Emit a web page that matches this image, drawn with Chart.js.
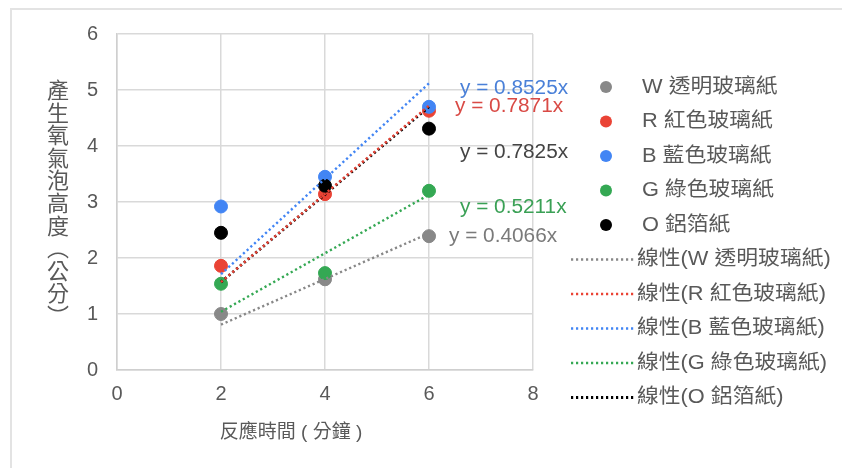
<!DOCTYPE html>
<html>
<head>
<meta charset="utf-8">
<script src="https://cdn.jsdelivr.net/npm/chart.js@4.4.1/dist/chart.umd.min.js"></script>
<style>
  html, body { margin: 0; padding: 0; background: #fff; }
  .wrap { position: relative; width: 842px; height: 468px; overflow: hidden; }
  .frame { position: absolute; left: 10px; top: 8px; right: -10px; bottom: -10px;
           border-left: 2px solid #e3e3e3; border-top: 2px solid #e3e3e3; }
  canvas { position: absolute; left: 0; top: 0; }
</style>
</head>
<body>
<div class="wrap">
  <div class="frame"></div>
  <canvas id="chart" width="842" height="468"></canvas>
</div>
<script>
const times = [2, 4, 6];
const seriesNames = ['W 透明玻璃紙', 'R 紅色玻璃紙', 'B 藍色玻璃紙', 'G 綠色玻璃紙', 'O 鋁箔紙'];
const valuesW = [1.00, 1.62, 2.39];
const valuesR = [1.86, 3.14, 4.63];
const valuesB = [2.92, 3.45, 4.70];
const valuesG = [1.54, 1.73, 3.20];
const valuesO = [2.45, 3.29, 4.31];
// trendline ends (at x = 2 and x = 6), through the origin
const trendX = [2, 6];
const trendW = [0.81, 2.44];
const trendR = [1.57, 4.72];
const trendB = [1.71, 5.12];
const trendG = [1.04, 3.13];
const trendO = [1.57, 4.70];
const equations = ['y = 0.4066x', 'y = 0.7871x', 'y = 0.8525x', 'y = 0.5211x', 'y = 0.7825x'];
const xTicks = [0, 2, 4, 6, 8];
const yTicks = [0, 1, 2, 3, 4, 5, 6];
const xTitle = '反應時間 ( 分鐘 )';
const yTitle = '產生氧氣泡高度︵公分︶';

const colors = ['#888888', '#ea4335', '#4285f4', '#34a853', '#000000'];
const eqColors = ['#7a7a7a', '#d94a45', '#4a80d8', '#3aa055', '#444444'];
const FONT = '"Liberation Sans", "Noto Sans CJK TC", sans-serif';
const TEXT = '#595959';

const pts = (xs, ys) => xs.map((x, i) => ({ x: x, y: ys[i] }));
const values = [valuesW, valuesR, valuesB, valuesG, valuesO];
const trends = [trendW, trendR, trendB, trendG, trendO];

const datasets = [];
values.forEach((v, i) => {
  datasets.push({
    type: 'scatter',
    label: seriesNames[i],
    data: pts(times, v),
    backgroundColor: colors[i],
    borderColor: colors[i],
    pointRadius: 6.5,
    pointHoverRadius: 6.5,
    order: 5 - i + 1,
  });
});
trends.forEach((t, i) => {
  datasets.push({
    type: 'line',
    label: '線性(' + seriesNames[i] + ')',
    data: pts(trendX, t),
    borderColor: colors[i],
    borderWidth: i === 4 ? 2.8 : 2.4,
    borderDash: [2.2, 2.8],
    pointRadius: 0,
    fill: false,
    order: 0,
  });
});

// text drawn slightly wider, like the original picture
function wideText(ctx, str, x, y, sx) {
  ctx.save();
  ctx.translate(x, y);
  ctx.scale(sx, 1);
  ctx.fillText(str, 0, 0);
  ctx.restore();
}

// legend, equation labels and axis titles
const extras = {
  id: 'extras',
  afterDraw(chart) {
    const ctx = chart.ctx;
    const xs = chart.scales.x;
    ctx.save();

    // equation labels next to the x = 6 points
    const eqPos = [[20, 236], [26, 106], [31, 88], [31, 207], [31, 152]];
    ctx.font = '20px ' + FONT;
    ctx.textBaseline = 'middle';
    ctx.textAlign = 'left';
    [2, 1, 4, 3, 0].forEach(i => {
      ctx.fillStyle = eqColors[i];
      wideText(ctx, equations[i], xs.getPixelForValue(6) + eqPos[i][0], eqPos[i][1], 1.04);
    });

    // legend
    ctx.font = '20px ' + FONT;
    chart.data.datasets.forEach((ds, i) => {
      const y = 87 + i * 34.5;
      if (ds.type === 'scatter') {
        ctx.fillStyle = ds.backgroundColor;
        ctx.beginPath();
        ctx.arc(606, y, 6, 0, Math.PI * 2);
        ctx.fill();
        ctx.fillStyle = TEXT;
        wideText(ctx, ds.label, 642, y, 1.09);
      } else {
        ctx.strokeStyle = ds.borderColor;
        ctx.lineWidth = ds.borderWidth;
        ctx.setLineDash(ds.borderDash);
        ctx.beginPath();
        ctx.moveTo(571, y);
        ctx.lineTo(634, y);
        ctx.stroke();
        ctx.setLineDash([]);
        ctx.fillStyle = TEXT;
        wideText(ctx, ds.label, 637, y, 1.09);
      }
    });

    // x axis title
    ctx.font = '19px ' + FONT;
    ctx.textAlign = 'center';
    ctx.fillStyle = TEXT;
    ctx.fillText(xTitle, 291, 433);

    // y axis title, stacked vertically
    ctx.font = '22px ' + FONT;
    Array.from(yTitle).forEach((ch, k) => {
      ctx.fillText(ch, 58, 92 + k * 22.6);
    });
    ctx.restore();
  }
};

new Chart(document.getElementById('chart'), {
  data: { datasets: datasets },
  options: {
    responsive: false,
    animation: false,
    devicePixelRatio: 1,
    layout: { padding: { left: 0, top: 34, right: 309, bottom: 0 } },
    plugins: { legend: { display: false }, tooltip: { enabled: false } },
    scales: {
      x: {
        type: 'linear',
        min: xTicks[0],
        max: xTicks[xTicks.length - 1],
        afterFit(scale) { scale.height = 98; },
        afterBuildTicks(scale) { scale.ticks = xTicks.map(v => ({ value: v })); },
        ticks: { color: TEXT, padding: 12, font: { family: FONT, size: 20 } },
        grid: { color: '#d9d9d9', lineWidth: 1.5, drawTicks: false },
        border: { color: '#cfcfcf', width: 1.5 },
      },
      y: {
        type: 'linear',
        min: yTicks[0],
        max: yTicks[yTicks.length - 1],
        afterFit(scale) { scale.width = 117; },
        afterBuildTicks(scale) { scale.ticks = yTicks.map(v => ({ value: v })); },
        ticks: { color: TEXT, padding: 19, font: { family: FONT, size: 20 } },
        grid: { color: '#d9d9d9', lineWidth: 1.5, drawTicks: false },
        border: { color: '#cfcfcf', width: 1.5 },
      },
    },
  },
  plugins: [extras],
});
</script>
</body>
</html>
